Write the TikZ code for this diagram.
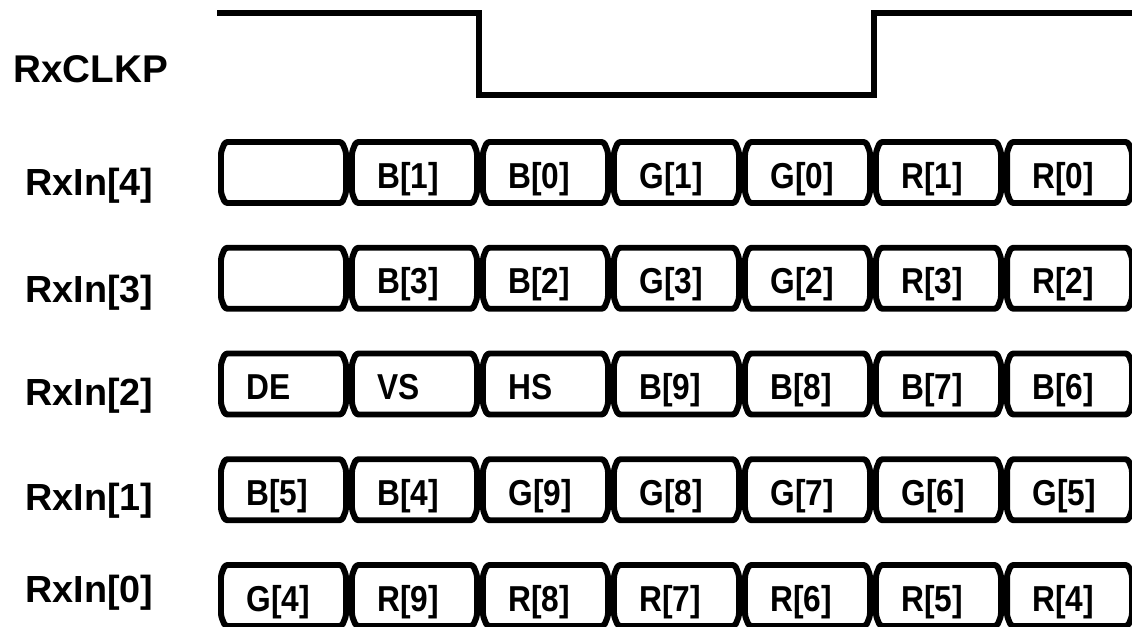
\documentclass[tikz,border=0pt]{standalone}
\usepackage{fontspec}
\setmainfont{Liberation Sans}
\newfontfamily\cellfont[FakeStretch=0.88]{Liberation Sans}
\usepackage{tikz}

\tikzset{
  sig/.style={font=\fontsize{21.5}{22}\selectfont\bfseries, anchor=base west, inner sep=0pt},
  celltxt/.style={font=\cellfont\fontsize{20.5}{21}\selectfont\bfseries, anchor=base west, inner sep=0pt},
  cellbox/.style={line width=3.4pt, rounded corners=1.5pt, line join=round},
  clk/.style={line width=3.2pt}
}

% one bus row: #1 row number from the top, #2 bit, #3 cell texts
\newcommand{\busrow}[3]{
  \pgfmathsetmacro{\rt}{142+105.75*#1}
  \pgfmathsetmacro{\rb}{\rt+61}
  \foreach \txt [count=\i from 0] in {#3}{
    \pgfmathsetmacro{\sl}{221+131*\i}
    \pgfmathsetmacro{\sr}{\sl+125}
    \draw[cellbox] (\sl+4,\rt) -- (\sr-4,\rt) -- (\sr,\rt+10) -- (\sr,\rb-10) -- (\sr-4,\rb)
      -- (\sl+4,\rb) -- (\sl,\rb-10) -- (\sl,\rt+10) -- cycle;
    \node[celltxt] (cell-#2-\i) at (\sl+25,\rt+46) {\txt};
  }
}

\begin{document}
\begin{tikzpicture}[x=0.02cm,y=-0.02cm]
  \clip (0,0) rectangle (1132,626);

  % clock
  \node[sig, font=\fontsize{22}{23}\selectfont\bfseries] (clkp) at (13,82) {RxCLKP};
  \draw[clk] (217,13) -- (479,13) -- (479,95) -- (874,95) -- (874,13) -- (1140,13);

  % data lanes
  \node[sig] (in4) at (25,195) {RxIn[4]};
  \node[sig] (in3) at (25,302) {RxIn[3]};
  \node[sig] (in2) at (25,405) {RxIn[2]};
  \node[sig] (in1) at (25,510) {RxIn[1]};
  \node[sig] (in0) at (25,602) {RxIn[0]};

  \busrow{0}{4}{{},B[1],B[0],G[1],G[0],R[1],R[0]}
  \busrow{1}{3}{{},B[3],B[2],G[3],G[2],R[3],R[2]}
  \busrow{2}{2}{DE,VS,HS,B[9],B[8],B[7],B[6]}
  \busrow{3}{1}{B[5],B[4],G[9],G[8],G[7],G[6],G[5]}
  \busrow{4}{0}{G[4],R[9],R[8],R[7],R[6],R[5],R[4]}
\end{tikzpicture}
\end{document}
